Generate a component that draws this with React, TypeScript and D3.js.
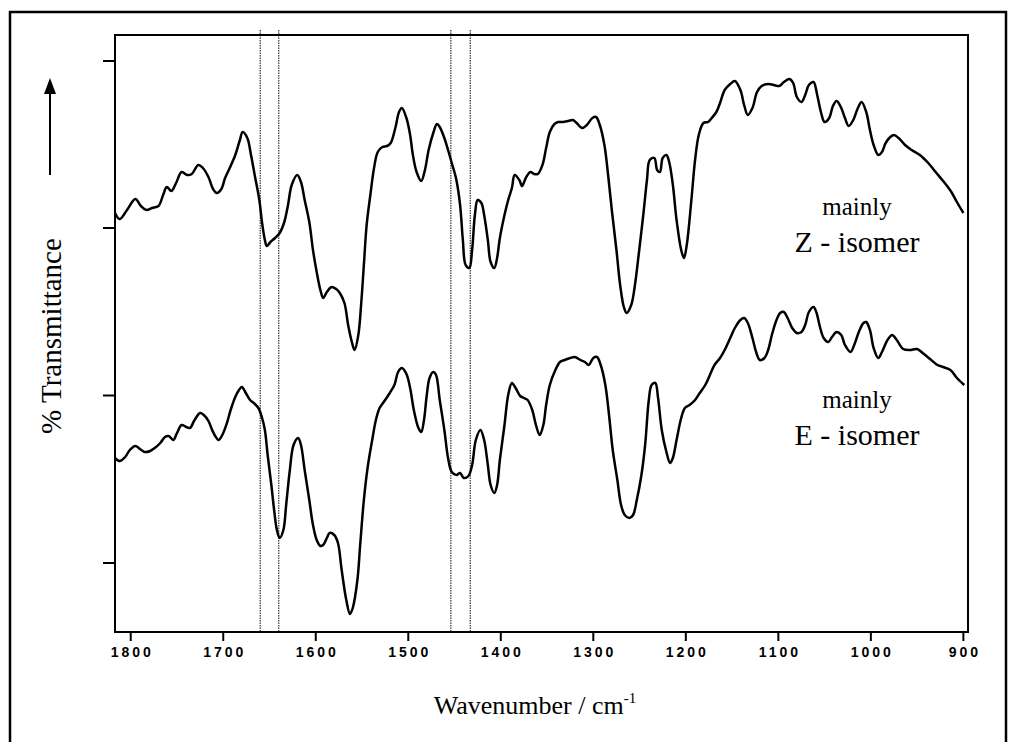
import React from 'react';
import * as d3 from 'd3';

// Wavenumber tick labels (cm^-1)
const xTickValues = [1800, 1700, 1600, 1500, 1400, 1300, 1200, 1100, 1000, 900];
// Unlabelled y ticks (arbitrary % transmittance units, offset spectra)
const yTickValues = [6.9, 23.65, 40.4, 57.1];
// Dotted marker lines (cm^-1)
const markerLines = [1660, 1640, 1454, 1433];

// Upper trace: mainly Z-isomer  [wavenumber, %T (offset units)]
const zIsomer: [number, number][] = [
  [1817,41.9],[1812,41.3],[1804,42.2],[1795,43.3],[1789,42.6],[1783,42.2],[1777,42.4],[1770,42.6],[1765,43.7],[1761,44.5],[1756,44.1],[1751,44.9],[1745,46.0],[1739,45.7],[1734,45.8],[1727,46.7],[1722,46.4],[1716,45.5],[1711,44.3],[1707,43.9],[1702,44.3],[1698,45.4],[1693,46.4],[1687,47.7],[1682,49.2],[1679,50.0],[1674,49.4],[1670,47.7],[1666,45.7],[1661,43.2],[1658,40.9],[1655,39.2],[1653,38.6],[1649,39.0],[1644,39.4],[1639,39.9],[1634,41.0],[1630,42.7],[1626,44.7],[1620,45.7],[1616,45.0],[1612,43.2],[1607,41.0],[1603,38.2],[1599,36.0],[1595,34.2],[1592,33.4],[1588,34.0],[1583,34.5],[1578,34.3],[1574,33.9],[1569,32.9],[1565,30.7],[1561,29.0],[1558,28.2],[1554,29.7],[1551,32.7],[1548,36.7],[1545,40.7],[1541,43.7],[1537,46.4],[1533,48.0],[1528,48.5],[1523,48.6],[1519,48.9],[1514,50.4],[1510,52.0],[1507,52.4],[1502,51.4],[1498,49.7],[1495,47.7],[1491,46.0],[1486,45.1],[1482,46.2],[1478,48.2],[1473,49.9],[1469,50.8],[1466,50.5],[1461,49.4],[1457,48.2],[1453,46.9],[1448,45.2],[1444,42.7],[1441,39.2],[1438,36.7],[1434,36.4],[1431,38.2],[1428,41.7],[1425,43.2],[1421,42.9],[1418,41.7],[1414,39.2],[1411,37.0],[1407,36.4],[1404,37.4],[1401,39.4],[1396,41.7],[1392,43.2],[1388,44.4],[1385,45.7],[1380,45.2],[1377,44.6],[1373,45.4],[1368,46.0],[1364,45.8],[1360,45.8],[1355,46.7],[1351,48.4],[1347,50.0],[1342,50.8],[1338,51.0],[1333,51.0],[1327,51.1],[1322,51.2],[1318,50.9],[1312,50.4],[1307,50.7],[1301,51.4],[1297,51.5],[1293,50.7],[1288,48.7],[1284,45.7],[1280,42.2],[1275,38.2],[1271,34.7],[1267,32.5],[1264,31.9],[1259,32.7],[1255,34.7],[1251,37.7],[1246,41.7],[1242,45.2],[1239,47.2],[1234,47.4],[1231,46.2],[1228,46.0],[1225,47.4],[1221,47.7],[1218,47.0],[1214,44.7],[1210,41.2],[1205,38.2],[1202,37.4],[1199,38.7],[1194,43.2],[1190,47.2],[1186,49.7],[1181,50.9],[1176,51.0],[1172,51.4],[1167,52.0],[1163,52.9],[1158,54.2],[1152,54.8],[1147,55.1],[1141,54.2],[1137,52.7],[1133,51.7],[1128,52.4],[1123,54.0],[1118,54.6],[1111,54.8],[1105,54.7],[1099,54.6],[1094,55.0],[1088,55.3],[1084,54.9],[1080,53.5],[1075,53.0],[1071,53.7],[1067,54.7],[1062,55.0],[1058,53.7],[1054,52.0],[1050,51.0],[1045,51.4],[1041,52.6],[1037,53.1],[1032,52.4],[1028,51.4],[1024,50.6],[1019,51.2],[1014,52.4],[1010,53.0],[1005,52.0],[1001,50.2],[997,48.7],[992,47.7],[988,48.0],[984,48.9],[979,49.5],[975,49.7],[970,49.4],[963,48.7],[956,48.2],[947,47.7],[938,46.9],[930,46.0],[921,45.0],[913,44.0],[907,43.0],[900,41.9]
];

// Lower trace: mainly E-isomer
const eIsomer: [number, number][] = [
  [1817,17.4],[1812,17.1],[1806,17.5],[1801,18.2],[1795,18.6],[1790,18.3],[1785,18.0],[1779,18.1],[1774,18.4],[1768,18.9],[1763,19.5],[1759,19.6],[1754,19.2],[1750,19.9],[1745,20.7],[1740,20.5],[1736,20.4],[1731,21.2],[1725,21.9],[1721,21.7],[1716,21.1],[1712,20.2],[1708,19.5],[1705,19.2],[1700,19.9],[1696,20.9],[1692,22.2],[1687,23.5],[1683,24.2],[1680,24.5],[1675,23.8],[1671,23.2],[1667,22.9],[1662,22.4],[1658,21.4],[1655,20.2],[1652,17.7],[1648,14.7],[1645,12.2],[1642,10.2],[1639,9.4],[1635,10.2],[1632,12.7],[1628,16.2],[1624,18.7],[1619,19.4],[1616,18.7],[1612,16.2],[1607,13.2],[1603,10.7],[1599,9.2],[1595,8.6],[1592,8.7],[1588,9.4],[1585,9.9],[1580,9.7],[1576,8.9],[1572,6.2],[1567,3.2],[1563,1.8],[1560,2.4],[1555,5.2],[1552,8.7],[1548,13.2],[1544,16.4],[1539,19.2],[1535,21.2],[1531,22.4],[1525,23.2],[1520,23.9],[1515,24.7],[1511,26.0],[1507,26.4],[1502,25.8],[1498,24.4],[1494,22.2],[1489,20.4],[1486,20.0],[1483,21.2],[1480,23.7],[1477,25.4],[1473,26.0],[1470,25.7],[1466,23.2],[1461,20.2],[1457,17.4],[1453,16.0],[1448,15.7],[1444,15.9],[1440,15.4],[1435,15.6],[1431,16.7],[1427,19.2],[1422,20.2],[1418,19.2],[1414,16.7],[1411,14.7],[1407,13.9],[1404,14.7],[1401,17.2],[1396,20.7],[1392,23.7],[1388,24.9],[1384,24.4],[1379,23.6],[1375,23.4],[1371,23.2],[1366,22.2],[1362,20.7],[1358,19.7],[1354,20.7],[1351,22.7],[1347,24.7],[1341,26.2],[1336,27.0],[1331,27.2],[1325,27.4],[1320,27.5],[1314,27.2],[1309,27.0],[1305,26.7],[1300,27.4],[1296,27.5],[1292,26.7],[1287,24.7],[1283,21.7],[1279,18.2],[1274,15.2],[1270,12.7],[1266,11.7],[1261,11.4],[1257,11.7],[1253,13.2],[1248,15.7],[1244,18.7],[1240,23.2],[1237,24.7],[1233,24.9],[1230,23.4],[1226,20.2],[1221,18.0],[1217,16.9],[1214,17.4],[1210,19.2],[1205,21.4],[1201,22.4],[1196,22.7],[1190,23.2],[1185,23.9],[1179,24.7],[1174,25.7],[1169,26.7],[1163,27.4],[1158,28.2],[1152,29.4],[1147,30.4],[1141,31.2],[1137,31.4],[1133,30.9],[1128,29.4],[1124,28.0],[1120,27.2],[1115,27.4],[1111,28.2],[1107,29.7],[1102,31.2],[1098,31.9],[1094,32.0],[1090,31.4],[1085,30.4],[1080,29.9],[1075,30.0],[1071,30.7],[1067,32.0],[1062,32.5],[1059,32.0],[1055,30.5],[1051,29.4],[1046,29.0],[1042,29.5],[1037,30.0],[1032,29.7],[1028,28.7],[1022,28.0],[1018,28.7],[1013,30.0],[1008,30.9],[1005,31.0],[1001,30.2],[997,28.4],[992,27.4],[988,28.0],[982,29.2],[977,29.7],[972,29.2],[965,28.3],[958,28.2],[950,28.3],[944,27.9],[936,27.3],[928,26.7],[922,26.5],[914,26.2],[907,25.4],[899,24.7]
];

const serif = '"Liberation Serif", "Times New Roman", serif';
const sans = '"Liberation Sans", Arial, sans-serif';

export default function App() {
  const W = 1010;
  const H = 742;
  const m = { left: 115, right: 968, top: 35, bottom: 632 };

  const x = d3.scaleLinear().domain([1817, 895]).range([m.left, m.right]);
  const y = d3.scaleLinear().domain([0, 59.7]).range([m.bottom, m.top]);

  const line = d3
    .line<[number, number]>()
    .x((d) => x(d[0]))
    .y((d) => y(d[1]))
    .curve(d3.curveCatmullRom.alpha(0.5));

  const labelX = 857;

  return (
    <svg
      width={W}
      height={H}
      style={{ position: 'absolute', left: 0, top: 0, background: '#fff' }}
    >
      {/* outer frame */}
      <rect x={10} y={12} width={996} height={770} fill="none" stroke="#000" strokeWidth={2.5} />

      {/* dotted marker lines */}
      {markerLines.map((w) => (
        <line
          key={w}
          x1={x(w)}
          x2={x(w)}
          y1={m.top - 5}
          y2={m.bottom}
          stroke="#333"
          strokeWidth={1.2}
          strokeDasharray="1.5 1"
        />
      ))}

      {/* spectra */}
      <path d={line(zIsomer) || ''} fill="none" stroke="#000" strokeWidth={2.5} strokeLinejoin="round" />
      <path d={line(eIsomer) || ''} fill="none" stroke="#000" strokeWidth={2.5} strokeLinejoin="round" />

      {/* plot frame */}
      <rect
        x={m.left}
        y={m.top}
        width={m.right - m.left}
        height={m.bottom - m.top}
        fill="none"
        stroke="#000"
        strokeWidth={2}
      />

      {/* x ticks */}
      {xTickValues.map((t) => (
        <g key={t}>
          <line x1={x(t)} x2={x(t)} y1={m.bottom} y2={m.bottom + 9} stroke="#000" strokeWidth={2} />
          <text
            x={x(t) + 1.5}
            y={m.bottom + 25}
            textAnchor="middle"
            fontFamily={sans}
            fontWeight="bold"
            fontSize={14}
            letterSpacing={3}
          >
            {t}
          </text>
        </g>
      ))}

      {/* y ticks */}
      {yTickValues.map((t) => (
        <line key={t} x1={m.left - 12} x2={m.left} y1={y(t)} y2={y(t)} stroke="#000" strokeWidth={2} />
      ))}

      {/* y label and arrow */}
      <text
        transform="translate(61,336) rotate(-90)"
        textAnchor="middle"
        fontFamily={serif}
        fontSize={29}
      >
        % Transmittance
      </text>
      <line x1={50} x2={50} y1={175} y2={90} stroke="#000" strokeWidth={2} />
      <path d="M50,78 L44,94 L56,94 Z" fill="#000" />

      {/* x label */}
      <text x={535} y={714} textAnchor="middle" fontFamily={serif} fontSize={26}>
        Wavenumber / cm
        <tspan fontSize={15} dy={-11}>-1</tspan>
      </text>

      {/* isomer labels */}
      <text x={labelX} y={215} textAnchor="middle" fontFamily={serif} fontSize={25}>mainly</text>
      <text x={labelX} y={252} textAnchor="middle" fontFamily={serif} fontSize={30}>Z - isomer</text>
      <text x={labelX} y={408} textAnchor="middle" fontFamily={serif} fontSize={25}>mainly</text>
      <text x={labelX} y={445} textAnchor="middle" fontFamily={serif} fontSize={30}>E - isomer</text>
    </svg>
  );
}
